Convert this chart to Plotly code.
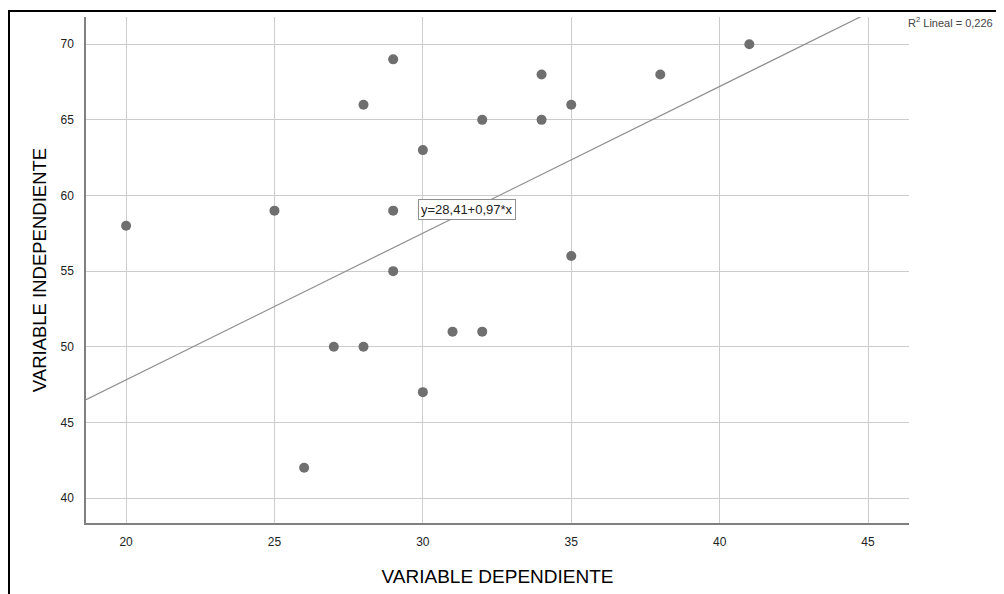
import plotly.graph_objects as go

# Data
x_dependiente = [20, 25, 26, 27, 28, 28, 29, 29, 29, 30, 30, 31, 32, 32, 34, 34, 35, 35, 38, 41]
y_independiente = [58, 59, 42, 50, 66, 50, 69, 59, 55, 63, 47, 51, 65, 51, 68, 65, 66, 56, 68, 70]

# Fit line as printed on the chart
intercept = 28.41
slope = 0.97
r2_text = "R<sup>2</sup> Lineal = 0,226"
eq_text = "y=28,41+0,97*x"

x_ticks = [20, 25, 30, 35, 40, 45]
y_ticks = [40, 45, 50, 55, 60, 65, 70]

x_range = [18.65, 46.38]
y_range = [38.35, 71.8]

# page body has an 8px offset; figure sized so plot area lands at 86..909 x 17..523 on screen
OFF = 8
W, H = 1004 - OFF, 594 - OFF
ml, mt = 86 - OFF, 17 - OFF
pr, pb = 909 - OFF, 523 - OFF
mr, mb = W - pr, H - pb
pw, ph = pr - ml, pb - mt

fig = go.Figure()

line_x = list(x_range)
line_y = [intercept + slope * v for v in line_x]
fig.add_trace(go.Scatter(x=line_x, y=line_y, mode="lines",
                         line=dict(color="#8f8f8f", width=1.2),
                         hoverinfo="skip", showlegend=False))

fig.add_trace(go.Scatter(x=x_dependiente, y=y_independiente, mode="markers",
                         marker=dict(color="#6f6f6f", size=10, line=dict(width=0)),
                         showlegend=False))

fig.add_annotation(x=29.85, y=59.1, xref="x", yref="y", text=eq_text,
                   showarrow=False, xanchor="left", yanchor="middle",
                   font=dict(family="Liberation Sans, Arial", size=13, color="#222222"),
                   bgcolor="white", bordercolor="#909090", borderwidth=1, borderpad=2)

fig.add_annotation(x=(906 - OFF - ml) / pw, y=1 - (22 - OFF - mt) / ph, xref="paper", yref="paper",
                   text=r2_text, showarrow=False, xanchor="left", yanchor="middle",
                   font=dict(family="Liberation Sans, Arial", size=11, color="#444444"))

# Outer black frame (partially visible in reference)
fig.add_shape(type="rect", xref="paper", yref="paper",
              x0=(9 - OFF - ml) / pw, x1=(1012 - OFF - ml) / pw,
              y0=1 - (605 - OFF - mt) / ph, y1=1 + (mt - (11 - OFF)) / ph,
              line=dict(color="black", width=2), fillcolor="rgba(0,0,0,0)", layer="above")

axis_font = dict(family="Liberation Sans, Arial", size=12, color="#222222")

fig.update_xaxes(range=x_range, tickvals=x_ticks, ticktext=[str(v) for v in x_ticks],
                 showgrid=True, gridcolor="#cccccc", gridwidth=1,
                 showline=True, linecolor="#808080", linewidth=1.5, mirror=False,
                 zeroline=False, ticks="", tickfont=axis_font, ticklabelstandoff=7,
                 title=dict(text="VARIABLE DEPENDIENTE",
                            font=dict(family="Liberation Sans, Arial", size=19, color="#000000"),
                            standoff=22))
fig.update_yaxes(range=y_range, tickvals=y_ticks, ticktext=[str(v) for v in y_ticks],
                 showgrid=True, gridcolor="#cccccc", gridwidth=1,
                 showline=True, linecolor="#808080", linewidth=1.5, mirror=False,
                 zeroline=False, ticks="", tickfont=axis_font, ticklabelstandoff=8,
                 title=dict(text="VARIABLE INDEPENDIENTE",
                            font=dict(family="Liberation Sans, Arial", size=18.5, color="#000000"),
                            standoff=9))

fig.update_layout(width=W, height=H, margin=dict(l=ml, r=mr, t=mt, b=mb, autoexpand=False),
                  paper_bgcolor="white", plot_bgcolor="white", showlegend=False)

fig.write_html("out.html")
